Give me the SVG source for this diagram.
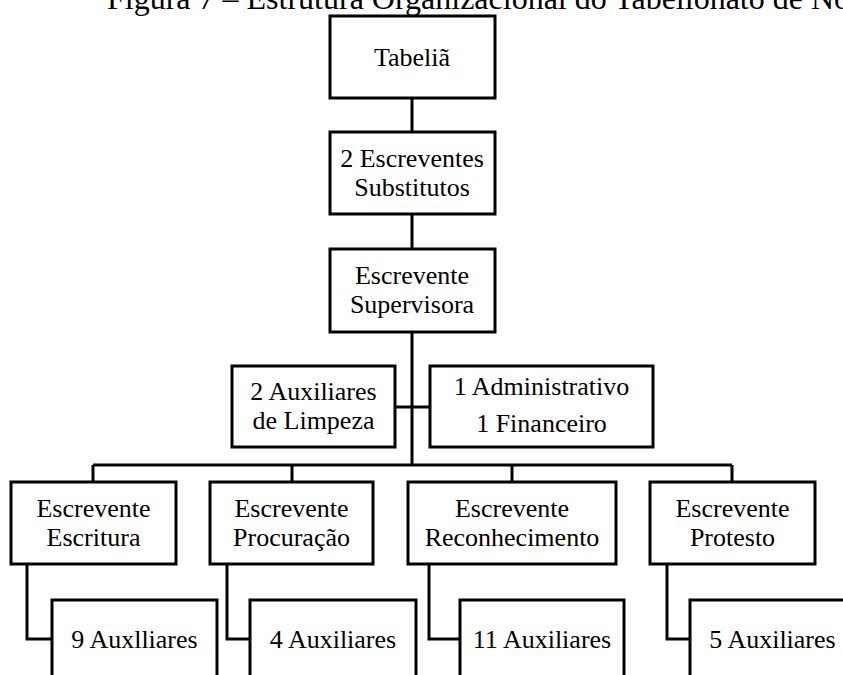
<svg xmlns="http://www.w3.org/2000/svg" width="843" height="675" viewBox="0 0 843 675">
<style>
.box{fill:#fff;stroke:#000;stroke-width:3}
.ln{fill:none;stroke:#000;stroke-width:3}
text{font-family:"Liberation Serif","Times New Roman",serif;font-size:26px;fill:#000;text-anchor:middle}
.title{font-size:32px;text-anchor:start}
</style>
<rect width="843" height="675" fill="#fff"/>
<text class="title" x="107" y="9">Figura 7 – Estrutura Organizacional do Tabelionato de Notas</text>
<g id="connectors">
<path class="ln" d="M412,98V132M412,214V249M412,332V465M395,407H430M93,465H732M93,465V482M292,465V482M512,465V482M732,465V482"/>
<path class="ln" d="M27,564V639H52M227,564V639H250M429,564V639H460M667,564V639H690"/>
</g>
<g id="tabelia"><rect class="box" x="330" y="16" width="165" height="82"/><text x="412" y="66">Tabeliã</text></g>
<g id="substitutos"><rect class="box" x="330" y="132" width="165" height="82"/><text x="412" y="167">2 Escreventes</text><text x="412" y="196">Substitutos</text></g>
<g id="supervisora"><rect class="box" x="330" y="249" width="165" height="83"/><text x="412" y="284">Escrevente</text><text x="412" y="313">Supervisora</text></g>
<g id="limpeza"><rect class="box" x="232" y="366" width="163" height="81"/><text x="313.5" y="400">2 Auxiliares</text><text x="313.5" y="429">de Limpeza</text></g>
<g id="admin"><rect class="box" x="430" y="366" width="223" height="81"/><text x="541.5" y="395">1 Administrativo</text><text x="541.5" y="432">1 Financeiro</text></g>
<g id="escritura"><rect class="box" x="11" y="482" width="165" height="82"/><text x="93.5" y="517">Escrevente</text><text x="93.5" y="546">Escritura</text></g>
<g id="procuracao"><rect class="box" x="210" y="482" width="163" height="82"/><text x="291.5" y="517">Escrevente</text><text x="291.5" y="546">Procuração</text></g>
<g id="reconhecimento"><rect class="box" x="408" y="482" width="208" height="82"/><text x="512" y="517">Escrevente</text><text x="512" y="546">Reconhecimento</text></g>
<g id="protesto"><rect class="box" x="650" y="482" width="165" height="82"/><text x="732.5" y="517">Escrevente</text><text x="732.5" y="546">Protesto</text></g>
<g id="aux9"><rect class="box" x="52" y="600" width="165" height="90"/><text x="134.5" y="648">9 Auxlliares</text></g>
<g id="aux4"><rect class="box" x="250" y="600" width="166" height="90"/><text x="333" y="648">4 Auxiliares</text></g>
<g id="aux11"><rect class="box" x="460" y="600" width="164" height="90"/><text x="542" y="648">11 Auxiliares</text></g>
<g id="aux5"><rect class="box" x="690" y="600" width="165" height="90"/><text x="772.5" y="648">5 Auxiliares</text></g>
</svg>
